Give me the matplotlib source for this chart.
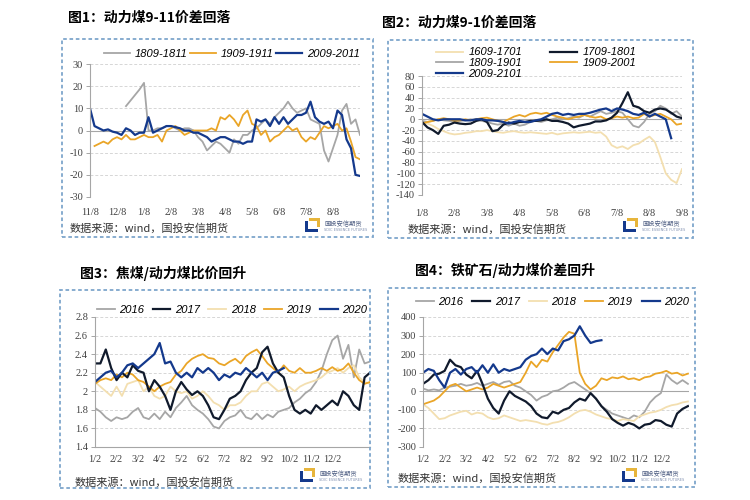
import numpy as np
import matplotlib
matplotlib.use('Agg')
import matplotlib.pyplot as plt
from matplotlib.patches import Rectangle
from matplotlib.font_manager import FontProperties

plt.rcParams['axes.unicode_minus'] = False
nan = np.nan

# ---------------- data ----------------
# panel 1: 9-11 spread, sampled every 1/6 month starting 11/8
p1_xlabels = ['11/8', '12/8', '1/8', '2/8', '3/8', '4/8', '5/8', '6/8', '7/8', '8/8']
p1_1809 = [nan, nan, nan, nan, nan, nan, nan, nan, 11, 13.5, 16, 18.5, 21.5, 0, 0, 1, 1, 2, 2, 1,
           0, 1, 1, 0, -3, -5, -9, -7, -5, -6, -8, -10, -4, -6, -2, -2, 0, 1, 3, 5,
           3, 6, 8, 10, 13, 10, 8, 9, 10, 5, 4, 3, -9, -14, -8, -2, 9, 12, 3, 5, -2]
p1_1909 = [nan, -7, -6, -5, -6, -4, -3, -4, -2, -4, -4, -3, -2, -3, -3, -2, -5, 0, 1, 2,
           0, -2, -1, 0, 0, 0, 0, 1, 0, 6, 5, 7, 5, 2, 7, 9, 3, 2, -2, 0,
           -5, -3, -2, 0, 2, 0, 1, -3, -5, -3, -4, -1, 2, 1, 2, 3, 0, 1, -5, -12, -13]
p1_2009 = [10, 2, 1, 0, 0.5, -0.5, -1, -2, 1, 0, -2, -1, -1, 6, -1, 0, 1, 2, 2, 1.5,
           1, 0, 0, -1, -1, -2, -3, -5, -4, -3, -3, -4, -5, -5, -6, -5, -5, 5, 4, 5,
           2, 6, 3, 6, 3, 5, 7, 7, 8, 13, 6, 4, 3, 4, 1, 9, 7, -4, -8, -20, -20.5]

# panel 2: 9-1 spread, sampled every 1/6 month starting 1/8
p2_xlabels = ['1/8', '2/8', '3/8', '4/8', '5/8', '6/8', '7/8', '8/8', '9/8']
p2_1609 = [-5, -8, -12, -18, -22, -26, -28, -27, -25, -24, -22, -22, -20, -22, -24, -25, -23, -22, -24, -25,
           -24, -25, -26, -27, -25, -28, -26, -25, -24, -25, -24, -23, -25, -24, -32, -48, -53, -50, -55, -48,
           -45, -38, -32, -42, -70, -100, -112, -118, -92]
p2_1709 = [-5, -15, -20, -27, -12, -10, -6, -8, -9, -8, -3, 0, -5, -22, -20, -10, -6, -8, -5, -5,
           -3, -3, -2, 0, -3, -3, -5, -8, -15, -12, -10, -8, -4, -4, -2, 3, 12, 30, 50, 25,
           22, 15, 12, 18, 20, 18, 12, 5, 2]
p2_1809 = [-3, -5, -3, 0, -2, -3, -5, -3, -2, 0, -2, -3, -5, -8, -10, -8, -12, -8, -12, -10,
           -5, -3, -5, -2, 0, 3, 0, 2, 5, 3, 8, 5, 10, 15, 10, 12, 15, 12, 0, -12,
           -15, -5, 10, 15, 25, 20, 10, 15, 5]
p2_1909 = [-8, -5, -3, 0, 2, 0, -3, -2, 0, -2, 0, 2, 3, 0, -3, -5, 0, 5, 8, 5,
           10, 12, 10, 12, 8, 5, 3, 0, 3, 5, 8, 5, 3, 5, 0, 2, 5, 3, 5, 2,
           3, 10, 5, 8, 10, 5, 0, -10, -8]
p2_2009 = [10, 5, 0, -2, 0, 0, 0, 0, -2, -2, 0, 0, -2, -2, -3, -5, -8, -5, -3, -5,
           -5, -2, 0, 5, 10, 12, 8, 10, 8, 10, 10, 12, 15, 18, 20, 15, 20, 18, 15, 10,
           8, 12, 5, 10, 5, 0, -35]

# panel 3: coking coal / thermal coal ratio, sampled every 1/4 month starting 1/2
p3_xlabels = ['1/2', '2/2', '3/2', '4/2', '5/2', '6/2', '7/2', '8/2', '9/2', '10/2', '11/2', '12/2']
p3_2016 = [1.82, 1.78, 1.72, 1.68, 1.72, 1.7, 1.72, 1.78, 1.82, 1.72, 1.7, 1.76, 1.7, 1.78, 1.72, 1.82, 1.88, 1.95, 1.85, 1.8,
           1.76, 1.7, 1.62, 1.6, 1.68, 1.72, 1.74, 1.8, 1.72, 1.7, 1.76, 1.7, 1.75, 1.72, 1.78, 1.8, 1.82, 1.88, 1.92, 1.98,
           2.02, 2.1, 2.22, 2.4, 2.55, 2.6, 2.35, 2.5, 2.15, 2.45, 2.3, 2.32]
p3_2017 = [2.3, 2.3, 2.45, 2.25, 2.12, 2.2, 2.15, 2.28, 2.22, 2.2, 2.0, 2.12, 2.05, 1.95, 1.8, 2.0, 2.1, 2.02, 1.96, 2.0,
           1.95, 1.85, 1.72, 1.7, 1.8, 1.92, 1.95, 2.0, 2.12, 2.2, 2.25, 2.42, 2.48, 2.3, 2.2, 2.15, 1.95, 1.8, 1.76, 1.8,
           1.76, 1.85, 1.8, 1.85, 1.9, 1.85, 2.0, 1.95, 1.85, 1.8, 2.15, 2.2]
p3_2018 = [2.1, 2.05, 2.0, 1.95, 2.05, 1.95, 2.08, 2.1, 2.12, 2.0, 2.05, 1.95, 1.92, 1.95, 2.05, 2.0, 1.98, 2.0, 1.92, 1.95,
           2.0, 1.95, 1.88, 1.85, 1.8, 1.85, 1.85, 1.88, 1.95, 2.0, 2.0, 2.08, 2.1, 2.05, 2.0, 2.02, 2.05, 2.0, 2.05, 2.08,
           2.1, 2.12, 2.15, 2.2, 2.22, 2.25, 2.2, 2.25, 2.28, 2.15, 2.1, 2.08]
p3_2019 = [2.08, 2.12, 2.14, 2.12, 2.18, 2.15, 2.2, 2.18, 2.12, 2.1, 2.05, 2.0, 2.05, 2.08, 2.1, 2.18, 2.22, 2.3, 2.35, 2.38,
           2.4, 2.36, 2.35, 2.3, 2.28, 2.32, 2.35, 2.3, 2.38, 2.42, 2.45, 2.38, 2.3, 2.25, 2.2, 2.28, 2.22, 2.2, 2.25, 2.2,
           2.2, 2.22, 2.25, 2.22, 2.26, 2.22, 2.24, 2.3, 2.2, 2.12, 2.08, 2.1]
p3_2020 = [2.1, 2.15, 2.2, 2.22, 2.15, 2.2, 2.28, 2.3, 2.25, 2.3, 2.35, 2.4, 2.52, 2.3, 2.32, 2.2, 2.15, 2.2, 2.15, 2.25,
           2.2, 2.25, 2.2, 2.12, 2.18, 2.15, 2.2, 2.18, 2.25, 2.2, 2.15, 2.2, 2.12, 2.2, 2.22, 2.25]

# panel 4: iron ore - thermal coal spread, sampled every 1/4 month starting 1/2
p4_xlabels = p3_xlabels
p4_2016 = [15, 5, 10, 5, 20, 25, 30, 40, 30, 35, 45, 30, 40, 50, 35, 50, 55, 30, 20, 0,
           -20, -50, -30, -20, 0, 5, 20, 40, 50, 30, 10, -10, -40, -80, -100, -120, -130, -140, -150, -130,
           -140, -110, -60, -30, -10, 90, 60, 40, 60, 40]
p4_2017 = [40, 60, 90, 95, 110, 170, 140, 130, 90, 70, 110, 40, -40, -90, -120, -50, 0, -25, -40, -55,
           -80, -120, -140, -145, -110, -120, -100, -90, -60, -40, -50, -10, -40, -80, -110, -150, -170, -185, -170, -180,
           -200, -180, -175, -155, -160, -180, -190, -120, -95, -80]
p4_2018 = [-70, -90, -120, -150, -145, -130, -120, -110, -105, -125, -115, -120, -140, -150, -145, -130, -140, -150, -160, -155,
           -160, -165, -175, -180, -170, -165, -155, -140, -120, -105, -100, -110, -125, -135, -145, -150, -160, -150, -155, -160,
           -135, -125, -115, -110, -100, -85, -75, -70, -60, -55]
p4_2019 = [-70, -60, -50, -30, 0, 30, 40, 20, 0, 10, 20, 10, 20, 40, 30, 20, 30, 40, 50, 100,
           160, 130, 170, 160, 210, 250, 290, 320, 310, 100, 40, 10, 30, 70, 60, 75, 70, 80, 65, 70,
           60, 75, 80, 95, 100, 110, 95, 100, 85, 95]
p4_2020 = [100, 120, 110, 60, 20, 100, 120, 90, 120, 130, 100, 140, 100, 145, 100, 120, 110, 120, 130, 170,
           190, 200, 230, 200, 230, 220, 270, 280, 300, 350, 300, 260, 270, 275]

titles = ['图1：动力煤9-11价差回落', '图2：动力煤9-1价差回落',
          '图3：焦煤/动力煤比价回升', '图4：铁矿石/动力煤价差回升']
source = '数据来源：wind，国投安信期货'

# ---------------- style ----------------
GRAY = '#a6a6a6'
GOLD = '#eaa527'
NAVY = '#14398c'
BLACK = '#101a2c'
BEIGE = '#f3dfb0'
CJK = ['Noto Sans CJK SC', 'DejaVu Sans']
tick_font = FontProperties(family='Liberation Serif', size=7.5)
leg_font = FontProperties(family='Liberation Sans', style='italic', size=8)

W, H = 750, 500
fig = plt.figure(figsize=(7.5, 5), dpi=100)
fig.patch.set_facecolor('white')


def rect(x0, y0, x1, y1):
    # pixel box (top-down) -> figure fraction
    return [x0 / W, 1 - y1 / H, (x1 - x0) / W, (y1 - y0) / H]


def box(x0, y0, x1, y1):
    fig.add_artist(Rectangle((x0 / W, 1 - y1 / H), (x1 - x0) / W, (y1 - y0) / H,
                             transform=fig.transFigure, fill=False, edgecolor='#7ea6cc',
                             lw=1.3, linestyle=(0, (2, 1.5))))


def logo(x, y):
    def r(a, b, c, d, col):
        fig.add_artist(Rectangle((a / W, 1 - d / H), (c - a) / W, (d - b) / H,
                                 transform=fig.transFigure, color=col, lw=0))
    r(x, y + 3, x + 3, y + 14, NAVY)
    r(x, y + 11, x + 13, y + 14, NAVY)
    r(x + 4, y, x + 15, y + 3, '#e7b53c')
    r(x + 12, y, x + 15, y + 9, '#e7b53c')
    fig.text((x + 19) / W, 1 - (y + 6) / H, '国投安信期货', family=CJK, fontsize=4.5,
             color='#4a5a80', va='center')
    fig.text((x + 19) / W, 1 - (y + 12) / H, 'SDIC ESSENCE FUTURES', fontsize=2.5,
             color='#8090b0', va='center')


def style(ax, ylim, yticks, xlim, xlabels, xpad, zero=True):
    ax.set_xlim(*xlim)
    ax.set_ylim(*ylim)
    ax.set_yticks(yticks)
    ax.set_yticklabels([f'{v:g}' for v in yticks])
    ax.set_xticks(range(len(xlabels)))
    ax.set_xticklabels(xlabels)
    for lab in ax.get_xticklabels() + ax.get_yticklabels():
        lab.set_fontproperties(tick_font)
        lab.set_color('#404040')
    ax.tick_params(axis='x', length=0, pad=xpad)
    ax.tick_params(axis='y', length=3, width=0.7, color=GRAY, pad=2)
    for s in ['top', 'right']:
        ax.spines[s].set_visible(False)
    ax.spines['left'].set_color(GRAY)
    ax.spines['left'].set_linewidth(0.8)
    if zero:
        ax.spines['bottom'].set_visible(False)
        ax.axhline(0, color=GRAY, lw=0.8, zorder=1)
    else:
        ax.spines['bottom'].set_color(GRAY)
        ax.spines['bottom'].set_linewidth(0.8)
    ax.yaxis.grid(True, linestyle=(0, (3, 2)), color='#d6d6d6', lw=0.7)
    ax.set_axisbelow(True)
    ax.patch.set_alpha(0)


def draw(ax, series, step):
    handles = {}
    for label, vals, col, lw in series:
        x = np.arange(len(vals)) * step
        handles[label], = ax.plot(x, vals, color=col, lw=lw, label=label, solid_joinstyle='round')
    return handles


# ---------------- panel 1 ----------------
box(62, 39, 373, 237)
fig.text(68 / W, 1 - 18 / H, titles[0], family=CJK, fontsize=10, weight='bold', va='center')
ax1 = fig.add_axes(rect(90, 64, 360, 197))
h1 = draw(ax1, [('1809-1811', p1_1809, GRAY, 1.3),
                ('1909-1911', p1_1909, GOLD, 1.3),
                ('2009-2011', p1_2009, NAVY, 1.6)], 1 / 6)
style(ax1, (-30, 30), range(-30, 31, 10), (0, 10), p1_xlabels, 8)
fig.legend(list(h1.values()), list(h1.keys()), ncol=3, loc='center', mode='expand',
           bbox_to_anchor=(104 / W, 1 - 54 / H, 256 / W, 0), frameon=False, prop=leg_font,
           handlelength=2.3, handletextpad=0.5, borderaxespad=0, borderpad=0)
fig.text(70 / W, 1 - 228 / H, source, family=CJK, fontsize=8, color='#333333', va='center')
logo(305, 218)

# ---------------- panel 2 ----------------
box(388, 40, 693, 238)
fig.text(382 / W, 1 - 23 / H, titles[1], family=CJK, fontsize=10, weight='bold', va='center')
ax2 = fig.add_axes(rect(422, 76, 682, 195))
h2 = draw(ax2, [('1609-1701', p2_1609, BEIGE, 1.3),
                ('1809-1901', p2_1809, GRAY, 1.3),
                ('1909-2001', p2_1909, GOLD, 1.3),
                ('1709-1801', p2_1709, BLACK, 1.6),
                ('2009-2101', p2_2009, NAVY, 1.6)], 1 / 6)
style(ax2, (-140, 80), range(-140, 81, 20), (0, 8), p2_xlabels, 10)
order2 = ['1609-1701', '1809-1901', '2009-2101', '1709-1801', '1909-2001']
fig.legend([h2[k] for k in order2], order2, ncol=2, loc='center', mode='expand',
           bbox_to_anchor=(436 / W, 1 - 63 / H, 200 / W, 0), frameon=False, prop=leg_font,
           handlelength=2.4, handletextpad=0.5, borderaxespad=0, borderpad=0,
           labelspacing=0.05)
fig.text(408 / W, 1 - 229 / H, source, family=CJK, fontsize=8, color='#333333', va='center')
logo(623, 218)

# ---------------- panel 3 ----------------
box(60, 290, 370, 488)
fig.text(80 / W, 1 - 273 / H, titles[2], family=CJK, fontsize=10, weight='bold', va='center')
ax3 = fig.add_axes(rect(95, 317, 370, 447))
h3 = draw(ax3, [('2016', p3_2016, GRAY, 1.3),
                ('2018', p3_2018, BEIGE, 1.3),
                ('2019', p3_2019, GOLD, 1.3),
                ('2017', p3_2017, BLACK, 1.6),
                ('2020', p3_2020, NAVY, 1.6)], 0.25)
style(ax3, (1.4, 2.8), np.round(np.arange(1.4, 2.81, 0.2), 1), (0, 12.75), p3_xlabels, 6, zero=False)
order3 = ['2016', '2017', '2018', '2019', '2020']
fig.legend([h3[k] for k in order3], order3, ncol=5, loc='center', mode='expand',
           bbox_to_anchor=(97 / W, 1 - 310 / H, 270 / W, 0), frameon=False, prop=leg_font,
           handlelength=1.6, handletextpad=0.4, borderaxespad=0, borderpad=0)
fig.text(75 / W, 1 - 482 / H, source, family=CJK, fontsize=8, color='#333333', va='center')
logo(300, 468)

# ---------------- panel 4 ----------------
box(388, 288, 695, 487)
fig.text(415 / W, 1 - 270 / H, titles[3], family=CJK, fontsize=10, weight='bold', va='center')
ax4 = fig.add_axes(rect(423, 317, 689, 447))
h4 = draw(ax4, [('2016', p4_2016, GRAY, 1.3),
                ('2018', p4_2018, BEIGE, 1.3),
                ('2019', p4_2019, GOLD, 1.3),
                ('2017', p4_2017, BLACK, 1.6),
                ('2020', p4_2020, NAVY, 1.6)], 0.25)
style(ax4, (-300, 400), range(-300, 401, 100), (0, 12.3), p4_xlabels, 6)
fig.legend([h4[k] for k in order3], order3, ncol=5, loc='center', mode='expand',
           bbox_to_anchor=(416 / W, 1 - 302 / H, 273 / W, 0), frameon=False, prop=leg_font,
           handlelength=1.6, handletextpad=0.4, borderaxespad=0, borderpad=0)
fig.text(398 / W, 1 - 478 / H, source, family=CJK, fontsize=8, color='#333333', va='center')
logo(622, 468)

fig.savefig('out.png', dpi=100, facecolor='white')
